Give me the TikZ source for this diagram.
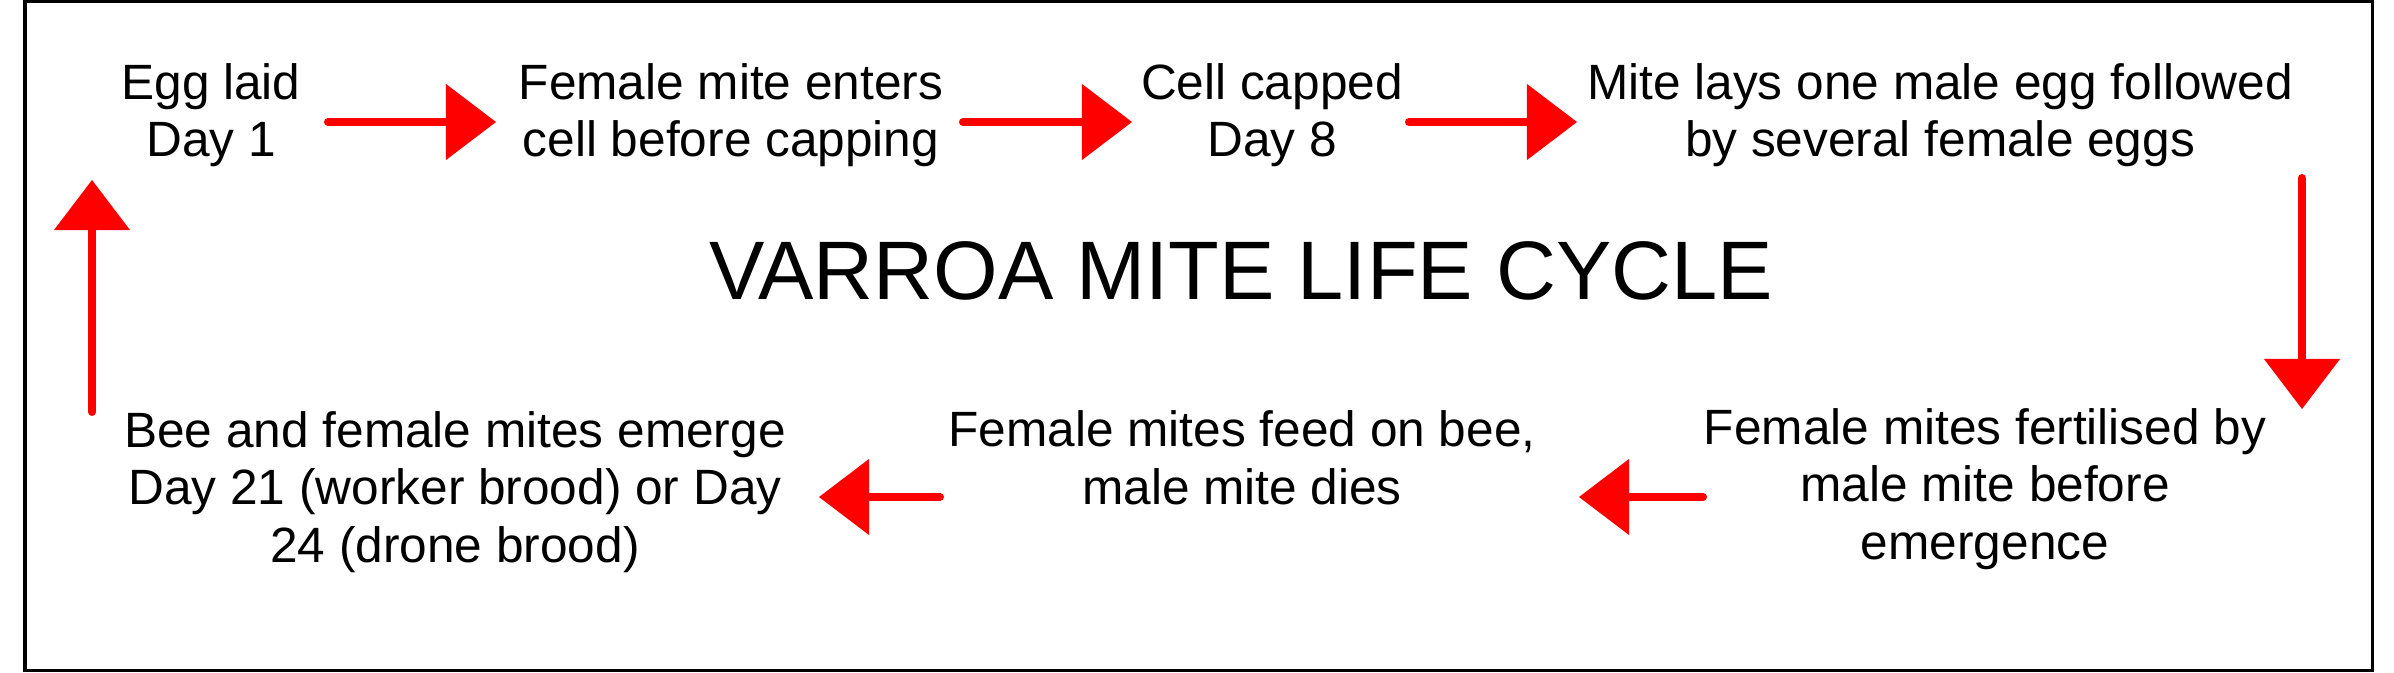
\documentclass[tikz,border=0pt]{standalone}
\usepackage{fontspec}
\setmainfont{Liberation Sans}
\usetikzlibrary{arrows.meta}

\tikzset{
  stage/.style = {align=center, anchor=base, inner sep=0pt,
    font=\fontsize{14.1pt}{16.3pt}\selectfont},
  flow/.style = {color=red, line width=0.08cm, line cap=round,
    -{Triangle[length=5mm 0, width=7.6mm 0, line width=0pt]}}
}

\begin{document}
\begin{tikzpicture}
  [x = 0.01cm, y = -0.01cm]
  \useasboundingbox (0,0) rectangle (2394,673);
  \draw[line width = 0.03cm] (25,1.5) rectangle (2372,670);
  % stages, top row then bottom row (placed at the last line)
  \node[stage] (egg) at (211,157) {Egg laid\\Day 1};
  \node[stage] (enters) at (731,157) {Female mite enters\\cell before capping};
  \node[stage] (capped) at (1272,157) {Cell capped\\Day 8};
  \node[stage] (lays) at (1940,157) {Mite lays one male egg followed\\by several female eggs};
  \node[stage] (fertilised) at (1985,559) {Female mites fertilised by\\male mite before\\emergence};
  \node[stage] (feed) at (1242,504) {Female mites feed on bee,\\male mite dies};
  \node[stage] (emerge) at (455,562) {Bee and female mites emerge\\Day 21 (worker brood) or Day\\24 (drone brood)};
  \node[anchor=base, inner sep=0pt, font=\fontsize{23.6pt}{28pt}\selectfont] (title) at (1241,299) {VARROA MITE LIFE CYCLE};
  % arrow ends
  \coordinate (s1) at (328,122);  \coordinate (t1) at (496,122);
  \coordinate (s2) at (963,122);  \coordinate (t2) at (1132,122);
  \coordinate (s3) at (1409,122); \coordinate (t3) at (1577,122);
  \coordinate (s4) at (2302,178); \coordinate (t4) at (2302,409);
  \coordinate (s5) at (1703,497); \coordinate (t5) at (1579,497);
  \coordinate (s6) at (940,497);  \coordinate (t6) at (819,497);
  \coordinate (s7) at (92,412);   \coordinate (t7) at (92,180);
  \foreach \n in {1,...,7}{
    \draw[flow] (s\n) -- (t\n);
  }
\end{tikzpicture}
\end{document}
